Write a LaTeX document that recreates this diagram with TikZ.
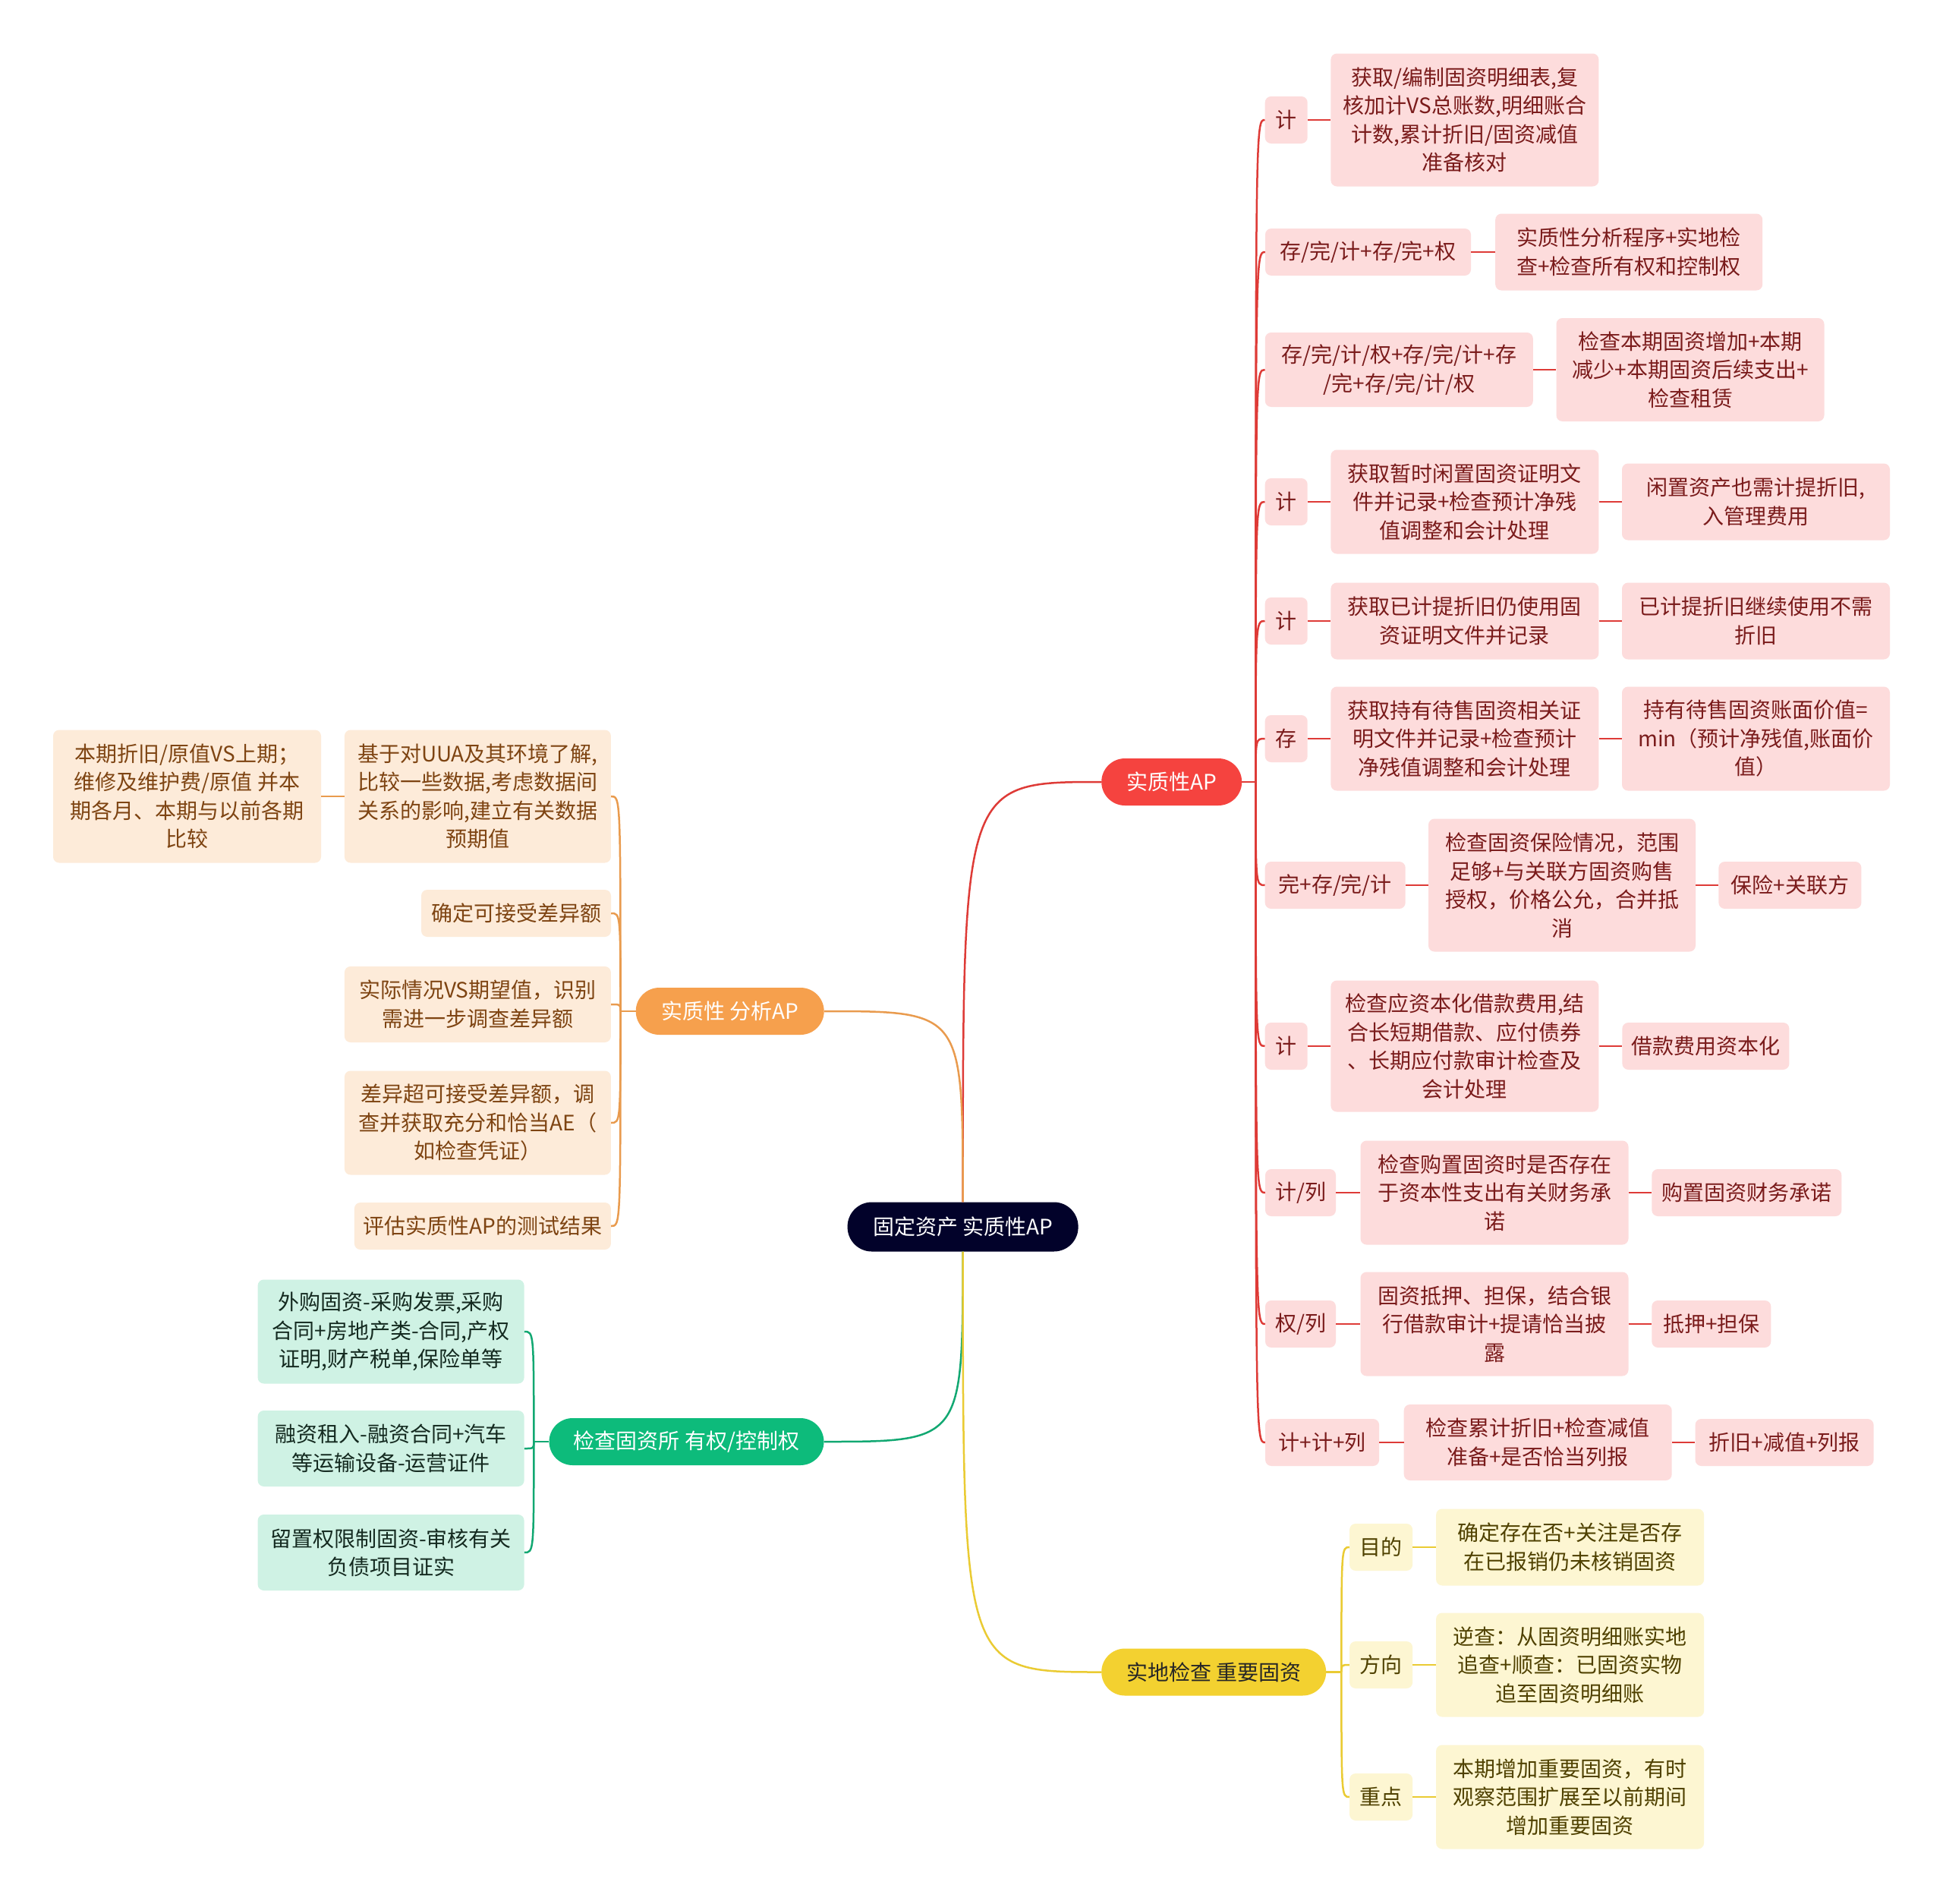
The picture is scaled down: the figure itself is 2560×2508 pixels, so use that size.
\documentclass[tikz,border=0pt]{standalone}
\usepackage{fontspec}
\setmainfont{Noto Sans CJK SC}
\usetikzlibrary{positioning}

\definecolor{rootfill}{HTML}{02022A}
\definecolor{redmain}{HTML}{F5433F}
\definecolor{redbox}{HTML}{FDDCDC}
\definecolor{redtext}{HTML}{7A1B1B}
\definecolor{redwire}{HTML}{DE3B37}
\definecolor{orgmain}{HTML}{F6A04D}
\definecolor{orgbox}{HTML}{FDEBD9}
\definecolor{orgtext}{HTML}{7E4412}
\definecolor{orgwire}{HTML}{E99B4E}
\definecolor{grnmain}{HTML}{0DBB7B}
\definecolor{grnbox}{HTML}{CFF2E4}
\definecolor{grntext}{HTML}{142A20}
\definecolor{grnwire}{HTML}{12A872}
\definecolor{ylwmain}{HTML}{F3D130}
\definecolor{ylwbox}{HTML}{FDF6D2}
\definecolor{ylwtext}{HTML}{4F4100}
\definecolor{ylwwire}{HTML}{EACB33}

\tikzset{
	txt/.style={font=\fontsize{28}{37.5}\selectfont, align=center, inner sep=0pt},
	pill/.style={txt, rounded corners=31pt, minimum height=62pt, text=white},
	rootnode/.style={pill, fill=rootfill, rounded corners=32pt, minimum height=65pt},
	leaf/.style={txt, rounded corners=8pt, minimum height=62pt},
	redleaf/.style={leaf, fill=redbox, text=redtext},
	orgleaf/.style={leaf, fill=orgbox, text=orgtext},
	grnleaf/.style={leaf, fill=grnbox, text=grntext},
	ylwleaf/.style={leaf, fill=ylwbox, text=ylwtext},
	redlink/.style={draw=redwire, line width=2.5pt},
	orglink/.style={draw=orgwire, line width=2.5pt},
	grnlink/.style={draw=grnwire, line width=2.5pt},
	ylwlink/.style={draw=ylwwire, line width=2.5pt},
}

\begin{document}
\begin{tikzpicture}[x=1pt, y=-1pt]
	\fill[white] (0,0) rectangle (2560,2508);
	\useasboundingbox (0,0) rectangle (2560,2508);

	% centre and the four branches
	\node [rootnode, minimum width=304pt] (root) at (1268.6,1616) {固定资产 实质性AP};
	\node [pill, fill=redmain, minimum width=185pt] (rp) at (1543.7,1030) {实质性AP};
	\node [pill, fill=orgmain, minimum width=248pt] (op) at (961.7,1332) {实质性 分析AP};
	\node [pill, fill=grnmain, minimum width=362pt] (gp) at (904.5,1899) {检查固资所 有权/控制权};
	\node [pill, fill=ylwmain, text=black!85, minimum width=296pt] (yp) at (1599.2,2202.5) {实地检查 重要固资};

	\draw [redlink] (root.north) .. controls (root.north |- rp.west) .. (rp.west);
	\draw [orglink] (root.north) .. controls (root.north |- op.east) .. (op.east);
	\draw [grnlink] (root.south) .. controls (root.south |- gp.east) .. (gp.east);
	\draw [ylwlink] (root.south) .. controls (root.south |- yp.west) .. (yp.west);

	% red branch: assertion tags
	\node [redleaf, minimum width=56pt] (r1) at (1694.7,158) {计};
	\node [redleaf, minimum width=271pt] (r2) at (1802.5,332) {存/完/计+存/完+权};
	\node [redleaf, minimum width=353pt, minimum height=98pt] (r3) at (1843.3,487) {存/完/计/权+存/完/计+存\\/完+存/完/计/权};
	\node [redleaf, minimum width=56pt] (r4) at (1694.7,661) {计};
	\node [redleaf, minimum width=56pt] (r5) at (1694.7,818) {计};
	\node [redleaf, minimum width=56pt] (r6) at (1694.7,973) {存};
	\node [redleaf, minimum width=185pt] (r7) at (1759.2,1166) {完+存/完/计};
	\node [redleaf, minimum width=56pt] (r8) at (1694.7,1378) {计};
	\node [redleaf, minimum width=93pt] (r9) at (1713.5,1571) {计/列};
	\node [redleaf, minimum width=93pt] (r10) at (1713.5,1744) {权/列};
	\node [redleaf, minimum width=150pt] (r11) at (1742.1,1900) {计+计+列};

	% red branch: procedures
	\node [redleaf, minimum width=353pt, minimum height=175pt] (r1c) at (1929.9,158) {获取/编制固资明细表,复\\核加计VS总账数,明细账合\\计数,累计折旧/固资减值\\准备核对};
	\node [redleaf, minimum width=352pt, minimum height=101pt] (r2c) at (2146.2,332) {实质性分析程序+实地检\\查+检查所有权和控制权};
	\node [redleaf, minimum width=353pt, minimum height=136pt] (r3c) at (2227,487) {检查本期固资增加+本期\\减少+本期固资后续支出+\\检查租赁};
	\node [redleaf, minimum width=353pt, minimum height=137pt] (r4c) at (1929.9,661) {获取暂时闲置固资证明文\\件并记录+检查预计净残\\值调整和会计处理};
	\node [redleaf, minimum width=353pt, minimum height=101pt] (r4g) at (2313.5,661) {闲置资产也需计提折旧,\\入管理费用};
	\node [redleaf, minimum width=353pt, minimum height=101pt] (r5c) at (1929.9,818) {获取已计提折旧仍使用固\\资证明文件并记录};
	\node [redleaf, minimum width=353pt, minimum height=101pt] (r5g) at (2313.5,818) {已计提折旧继续使用不需\\折旧};
	\node [redleaf, minimum width=353pt, minimum height=137pt] (r6c) at (1929.9,973) {获取持有待售固资相关证\\明文件并记录+检查预计\\净残值调整和会计处理};
	\node [redleaf, minimum width=353pt, minimum height=137pt] (r6g) at (2313.5,973) {持有待售固资账面价值=\\min（预计净残值,账面价\\值）};
	\node [redleaf, minimum width=352pt, minimum height=175pt] (r7c) at (2058,1166) {检查固资保险情况，范围\\足够+与关联方固资购售\\授权，价格公允，合并抵\\消};
	\node [redleaf, minimum width=188pt] (r7g) at (2358.4,1166) {保险+关联方};
	\node [redleaf, minimum width=353pt, minimum height=173pt] (r8c) at (1929.9,1378) {检查应资本化借款费用,结\\合长短期借款、应付债券\\、长期应付款审计检查及\\会计处理};
	\node [redleaf, minimum width=220pt] (r8g) at (2247.4,1378) {借款费用资本化};
	\node [redleaf, minimum width=353pt, minimum height=137pt] (r9c) at (1969,1571) {检查购置固资时是否存在\\于资本性支出有关财务承\\诺};
	\node [redleaf, minimum width=250pt] (r9g) at (2301.3,1571) {购置固资财务承诺};
	\node [redleaf, minimum width=353pt, minimum height=137pt] (r10c) at (1969,1744) {固资抵押、担保，结合银\\行借款审计+提请恰当披\\露};
	\node [redleaf, minimum width=157pt] (r10g) at (2254.8,1744) {抵押+担保};
	\node [redleaf, minimum width=353pt, minimum height=100pt] (r11c) at (2026.2,1900) {检查累计折旧+检查减值\\准备+是否恰当列报};
	\node [redleaf, minimum width=235pt] (r11g) at (2351.1,1900) {折旧+减值+列报};

	\draw [redlink] (rp.east) -- ++(18,0) coordinate (rs);
	\foreach \n in {r1,r2,r3,r4,r5,r6,r7,r8,r9,r10,r11}
		\draw [redlink] (rs) .. controls (rs |- \n.west) .. (\n.west);
	\foreach \a/\b in {r1/r1c,r2/r2c,r3/r3c,r4/r4c,r4c/r4g,r5/r5c,r5c/r5g,r6/r6c,r6c/r6g,r7/r7c,r7c/r7g,r8/r8c,r8c/r8g,r9/r9c,r9c/r9g,r10/r10c,r10c/r10g,r11/r11c,r11c/r11g}
		\draw [redlink] (\a) -- (\b);

	% orange branch
	\node [orgleaf, minimum width=351pt, minimum height=175pt] (o1) at (629.4,1049) {基于对UUA及其环境了解,\\比较一些数据,考虑数据间\\关系的影响,建立有关数据\\预期值};
	\node [orgleaf, minimum width=353pt, minimum height=175pt] (o1c) at (246.5,1049) {本期折旧/原值VS上期；\\维修及维护费/原值 并本\\期各月、本期与以前各期\\比较};
	\node [orgleaf, minimum width=250pt] (o2) at (680,1203) {确定可接受差异额};
	\node [orgleaf, minimum width=351pt, minimum height=100pt] (o3) at (629.4,1323) {实际情况VS期望值，识别\\需进一步调查差异额};
	\node [orgleaf, minimum width=351pt, minimum height=137pt] (o4) at (629.4,1479) {差异超可接受差异额，调\\查并获取充分和恰当AE（\\如检查凭证）};
	\node [orgleaf, minimum width=338pt] (o5) at (635.9,1615) {评估实质性AP的测试结果};

	\draw [orglink] (op.west) -- ++(-20,0) coordinate (os);
	\foreach \n in {o1,o2,o3,o4,o5}
		\draw [orglink] (os) .. controls (os |- \n.east) .. (\n.east);
	\draw [orglink] (o1) -- (o1c);

	% green branch
	\node [grnleaf, minimum width=351pt, minimum height=137pt] (g1) at (515.1,1754) {外购固资-采购发票,采购\\合同+房地产类-合同,产权\\证明,财产税单,保险单等};
	\node [grnleaf, minimum width=351pt, minimum height=100pt] (g2) at (515.1,1908) {融资租入-融资合同+汽车\\等运输设备-运营证件};
	\node [grnleaf, minimum width=351pt, minimum height=100pt] (g3) at (515.1,2045) {留置权限制固资-审核有关\\负债项目证实};

	\draw [grnlink] (gp.west) -- ++(-20,0) coordinate (gs);
	\foreach \n in {g1,g2,g3}
		\draw [grnlink] (gs) .. controls (gs |- \n.east) .. (\n.east);

	% yellow branch
	\node [ylwleaf, minimum width=83pt] (y1) at (1819.6,2038) {目的};
	\node [ylwleaf, minimum width=83pt] (y2) at (1819.6,2193) {方向};
	\node [ylwleaf, minimum width=83pt] (y3) at (1819.6,2367) {重点};
	\node [ylwleaf, minimum width=353pt, minimum height=101pt] (y1c) at (2068.6,2038) {确定存在否+关注是否存\\在已报销仍未核销固资};
	\node [ylwleaf, minimum width=353pt, minimum height=137pt] (y2c) at (2068.6,2193) {逆查：从固资明细账实地\\追查+顺查：已固资实物\\追至固资明细账};
	\node [ylwleaf, minimum width=353pt, minimum height=137pt] (y3c) at (2068.6,2367) {本期增加重要固资，有时\\观察范围扩展至以前期间\\增加重要固资};

	\draw [ylwlink] (yp.east) -- ++(20,0) coordinate (ys);
	\foreach \n in {y1,y2,y3}
		\draw [ylwlink] (ys) .. controls (ys |- \n.west) .. (\n.west);
	\foreach \a/\b in {y1/y1c,y2/y2c,y3/y3c}
		\draw [ylwlink] (\a) -- (\b);
\end{tikzpicture}
\end{document}
